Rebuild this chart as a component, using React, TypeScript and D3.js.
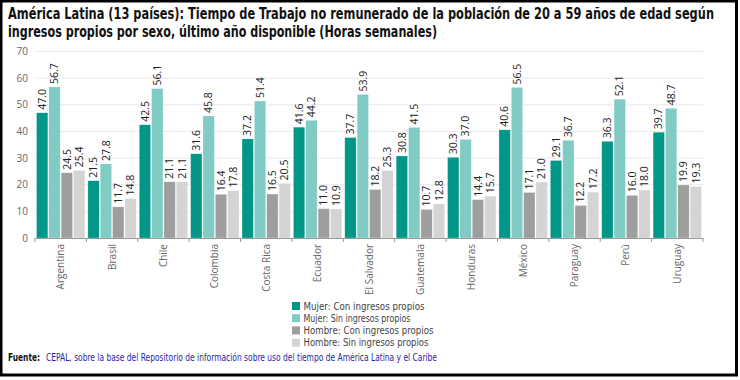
import React from "react";
import * as d3 from "d3";

const countries = ["Argentina", "Brasil", "Chile", "Colombia", "Costa Rica", "Ecuador", "El Salvador", "Guatemala", "Honduras", "México", "Paraguay", "Perú", "Uruguay"];
const seriesNames = ["Mujer: Con ingresos propios", "Mujer: Sin ingresos propios", "Hombre: Con ingresos propios", "Hombre: Sin ingresos propios"];
const mujerCon = [47.0, 21.5, 42.5, 31.6, 37.2, 41.6, 37.7, 30.8, 30.3, 40.6, 29.1, 36.3, 39.7];
const mujerSin = [56.7, 27.8, 56.1, 45.8, 51.4, 44.2, 53.9, 41.5, 37.0, 56.5, 36.7, 52.1, 48.7];
const hombreCon = [24.5, 11.7, 21.1, 16.4, 16.5, 11.0, 18.2, 10.7, 14.4, 17.1, 12.2, 16.0, 19.9];
const hombreSin = [25.4, 14.8, 21.1, 17.8, 20.5, 10.9, 25.3, 12.8, 15.7, 21.0, 17.2, 18.0, 19.3];
const yTicks = [0, 10, 20, 30, 40, 50, 60, 70];
const colors = ["#009688", "#80CBC4", "#9E9E9E", "#D4D4D4"];
const legendWidths = [121, 107, 130, 125];

const titleLines = [
  "América Latina (13 países): Tiempo de Trabajo no remunerado de la población de 20 a 59 años de edad según",
  "ingresos propios por sexo, último año disponible (Horas semanales)",
];
const sourceLabel = "Fuente:";
const sourceText = "CEPAL, sobre la base del Repositorio de información sobre uso del tiempo de América Latina y el Caribe";

const condensed = "'Liberation Sans Narrow', 'DejaVu Sans Condensed', 'Roboto Condensed', sans-serif";
const sans = "'Open Sans', 'Noto Sans', sans-serif";

export default function App() {
  const W = 740, H = 380;
  const x0 = 35, x1 = 703, yTop = 51.5, yBottom = 238;
  const allSeries = [mujerCon, mujerSin, hombreCon, hombreSin];
  const x = d3.scaleBand<string>().domain(countries).range([x0, x1]).padding(0);
  const xi = d3.scaleBand<number>().domain([0, 1, 2, 3]).range([1.5, x.bandwidth() - 1.5]).paddingInner(0.08);
  const y = d3.scaleLinear().domain([0, 70]).range([yBottom, yTop]);

  const boundaries = countries.map((c) => x(c)!).concat([x1]);

  return (
    <svg width={W} height={H} style={{ position: "absolute", left: 0, top: 0, background: "#fff" }}>
      <rect x={0} y={0} width={W} height={H} fill="#fff" />
      {/* title */}
      <text x={8} y={19} textLength={706} lengthAdjust="spacingAndGlyphs" fontFamily={condensed} fontWeight="bold" fontSize={15} fill="#111">{titleLines[0]}</text>
      <text x={8} y={37} textLength={429} lengthAdjust="spacingAndGlyphs" fontFamily={condensed} fontWeight="bold" fontSize={15} fill="#111">{titleLines[1]}</text>
      {/* grid */}
      {yTicks.filter((t) => t > 0).map((t) => (
        <line key={t} x1={x0} x2={x1} y1={y(t)} y2={y(t)} stroke="#e9e9e9" strokeWidth={1} />
      ))}
      {yTicks.map((t) => (
        <text key={"yl" + t} x={28} y={y(t)} dy="0.35em" textAnchor="end" fontFamily={sans} fontSize={10} fill="#666">{t}</text>
      ))}
      {/* bars */}
      {countries.map((c, ci) => (
        <g key={c} transform={`translate(${x(c)},0)`}>
          {allSeries.map((s, si) => {
            const v = s[ci];
            const bx = xi(si)!;
            const bw = xi.bandwidth();
            return (
              <g key={si}>
                <rect x={bx} y={y(v)} width={bw} height={yBottom - y(v)} fill={colors[si]} stroke="#ffffff" strokeOpacity={0.5} strokeWidth={0.5} />
                <text transform={`translate(${bx + bw / 2},${y(v) - 3}) rotate(-90)`} dy="0.35em" textAnchor="start" fontFamily={sans} fontSize={10.5} fill="#222">{v.toFixed(1)}</text>
              </g>
            );
          })}
        </g>
      ))}
      {/* x axis */}
      <line x1={x0} x2={x1} y1={yBottom + 0.5} y2={yBottom + 0.5} stroke="#999" strokeWidth={1} />
      {boundaries.map((b, i) => (
        <line key={"t" + i} x1={b} x2={b} y1={yBottom} y2={yBottom + 4} stroke="#999" strokeWidth={1} />
      ))}
      {countries.map((c) => (
        <text key={"xl" + c} transform={`translate(${x(c)! + x.bandwidth() / 2},${yBottom + 6}) rotate(-90)`} dy="0.35em" textAnchor="end" fontFamily={sans} fontSize={10} fill="#666">{c}</text>
      ))}
      {/* legend */}
      {seriesNames.map((n, i) => (
        <g key={n} transform={`translate(292,${306 + i * 12.2})`}>
          <rect x={0} y={-4} width={8} height={8} fill={colors[i]} />
          <text x={11.5} y={0} dy="0.35em" textLength={legendWidths[i]} lengthAdjust="spacingAndGlyphs" fontFamily={condensed} fontSize={11} fill="#444">{n}</text>
        </g>
      ))}
      {/* source */}
      <text x={8} y={357} dy="0.35em" textLength={32} lengthAdjust="spacingAndGlyphs" fontFamily={condensed} fontWeight="bold" fontSize={10.5} fill="#111">{sourceLabel}</text>
      <text x={46} y={357} dy="0.35em" textLength={391} lengthAdjust="spacingAndGlyphs" fontFamily={condensed} fontSize={10.5} fill="#1f1fa8">{sourceText}</text>
      {/* frame */}
      <rect x={1} y={1} width={735.5} height={374} fill="none" stroke="#000" strokeWidth={3} />
    </svg>
  );
}
